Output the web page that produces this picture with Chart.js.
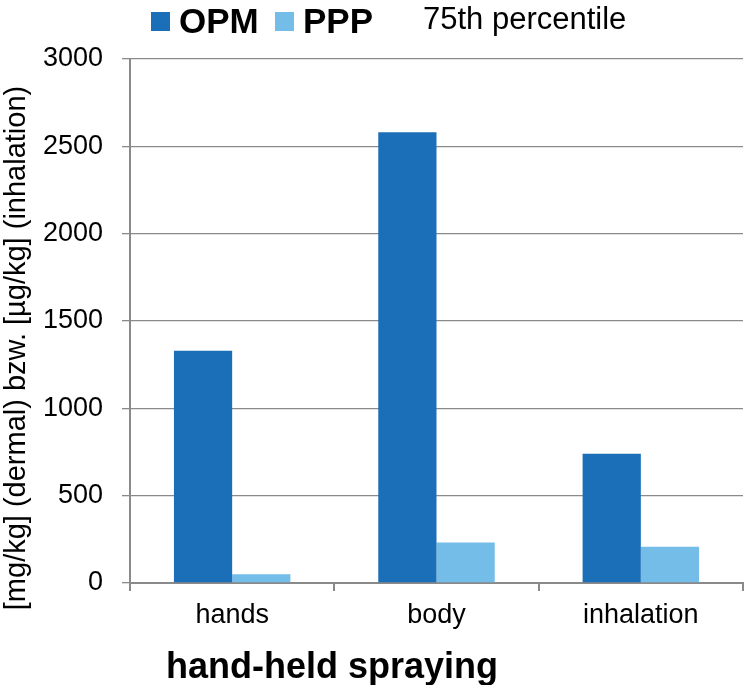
<!DOCTYPE html>
<html>
<head>
<meta charset="utf-8">
<script src="https://cdn.jsdelivr.net/npm/chart.js@4/dist/chart.umd.min.js"></script>
<style>
html,body{margin:0;padding:0;background:#fff;}
#wrap{width:746px;height:685px;position:relative;}
</style>
</head>
<body>
<div id="wrap"><canvas id="c"></canvas></div>
<script>
const categories = ['hands', 'body', 'inhalation'];
const seriesNames = ['OPM', 'PPP'];
const opmValues = [1330, 2580, 740];
const pppValues = [50, 232, 208];
const yTicks = [0, 500, 1000, 1500, 2000, 2500, 3000];
const yTitle = '[mg/kg] (dermal) bzw. [µg/kg] (inhalation)';
const xTitle = 'hand-held spraying';
const legendNote = '75th percentile';

const colors = ['#1B6FB8', '#75BDE9'];
const FONT = '"Liberation Sans", Arial, Helvetica, sans-serif';

const textPlugin = {
  id: 'texts',
  afterDraw(chart) {
    const ctx = chart.ctx;
    ctx.save();
    // legend
    ctx.fillStyle = colors[0];
    ctx.fillRect(151, 12, 19, 19);
    ctx.fillStyle = colors[1];
    ctx.fillRect(275, 12, 19, 19);
    ctx.fillStyle = '#000';
    ctx.textBaseline = 'alphabetic';
    ctx.textAlign = 'left';
    ctx.font = 'bold 35px ' + FONT;
    ctx.fillText(seriesNames[0], 179, 33);
    ctx.fillText(seriesNames[1], 303, 33);
    ctx.font = '31px ' + FONT;
    ctx.fillText(legendNote, 423, 29);
    // x title
    ctx.font = 'bold 36px ' + FONT;
    ctx.fillText(xTitle, 166, 678);
    // y title
    ctx.translate(17, 348);
    ctx.rotate(-Math.PI / 2);
    ctx.textAlign = 'center';
    ctx.textBaseline = 'middle';
    ctx.font = '29px ' + FONT;
    ctx.fillText(yTitle, 0, 0);
    ctx.restore();
  }
};

new Chart(document.getElementById('c'), {
  type: 'bar',
  data: {
    labels: categories,
    datasets: [
      { label: seriesNames[0], data: opmValues, backgroundColor: colors[0], categoryPercentage: 0.57, barPercentage: 1.0 },
      { label: seriesNames[1], data: pppValues, backgroundColor: colors[1], categoryPercentage: 0.57, barPercentage: 1.0 }
    ]
  },
  options: {
    responsive: true,
    maintainAspectRatio: false,
    animation: false,
    devicePixelRatio: 1,
    layout: { padding: { top: 59, right: 3, left: 0, bottom: 0 } },
    plugins: { legend: { display: false }, tooltip: { enabled: false }, title: { display: false } },
    scales: {
      x: {
        grid: { display: true, drawOnChartArea: false, offset: true, tickLength: 8, color: '#8a8a8a', lineWidth: 2 },
        border: { display: true, color: '#8a8a8a', width: 2 },
        ticks: { color: '#000', font: { family: FONT, size: 27 }, padding: 8, maxRotation: 0 },
        afterFit(scale) { scale.height = 102; }
      },
      y: {
        min: 0, max: 3000,
        afterBuildTicks(scale) { scale.ticks = yTicks.map(v => ({ value: v })); },
        grid: { color: '#8a8a8a', lineWidth: 1.3, tickLength: 8 },
        border: { display: true, color: '#8a8a8a', width: 2 },
        ticks: { color: '#000', font: { family: FONT, size: 27 }, padding: 19, callback: (v) => String(v) },
        afterFit(scale) { scale.width = 130; }
      }
    }
  },
  plugins: [textPlugin]
});
</script>
</body>
</html>
